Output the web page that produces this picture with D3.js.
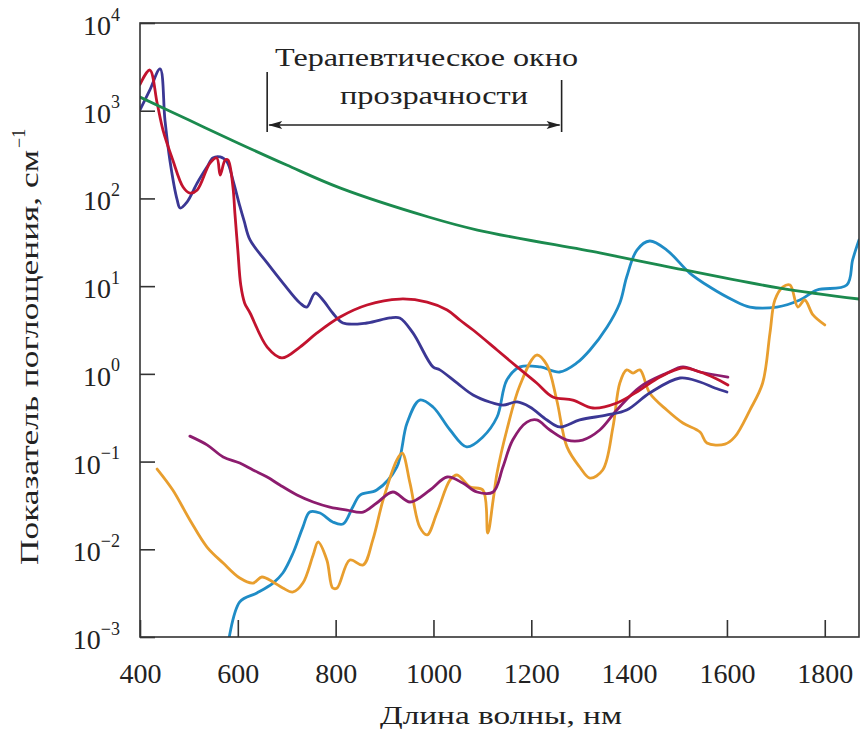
<!DOCTYPE html>
<html>
<head>
<meta charset="utf-8">
<script src="https://cdn.jsdelivr.net/npm/d3@7"></script>
<style>
  html, body { margin: 0; padding: 0; background: #fff; }
  svg { display: block; }
  text { font-family: "Liberation Serif", "Times New Roman", serif; fill: #222; }
</style>
</head>
<body>
<svg id="chart" width="862" height="735"></svg>
<script>
// Absorption spectra of tissue components (wavelength in nm, absorption in cm^-1)

const xTicks = [400, 600, 800, 1000, 1200, 1400, 1600, 1800];
const yTicks = [1e-3, 1e-2, 1e-1, 1e0, 1e1, 1e2, 1e3, 1e4];
const yTickExponents = ["\u22123", "\u22122", "\u22121", "0", "1", "2", "3", "4"];

// Therapeutic transparency window bounds, nm
const windowNm = [660, 1262];

// Melanin
const melaninNm  = [400, 500, 600, 700, 810, 990, 1090, 1340, 1463, 1708, 1870];
const melaninVal = [1430, 783, 429, 240, 131, 61.4, 43.6, 23.9, 17.4, 9.5, 7.13];

// Oxyhemoglobin
const oxyHbNm  = [400, 420, 435, 447, 467, 488, 502, 517, 543, 557, 564, 574, 580, 590, 594, 600, 606, 614, 625, 660, 690, 727, 762, 809, 864, 931, 987, 1028, 1054, 1081, 1130, 1171, 1211, 1244, 1285, 1326, 1375, 1422, 1463, 1510, 1545, 1575, 1602];
const oxyHbVal = [2000, 2910, 1225, 602, 274, 135, 115, 125, 253, 289, 185, 274, 274, 135, 68, 25.8, 10.3, 6.4, 4.94, 2.02, 1.52, 2.02, 2.93, 4.45, 6.10, 7.13, 6.59, 5.35, 4.11, 3.16, 1.87, 1.20, 0.787, 0.545, 0.503, 0.408, 0.466, 0.655, 0.920, 1.17, 1.05, 0.897, 0.747];

// Deoxyhemoglobin
const deoxyHbNm  = [400, 420, 441, 451, 461, 476, 482, 496, 517, 537, 549, 564, 578, 590, 604, 613, 625, 660, 692, 727, 741, 758, 774, 794, 815, 864, 911, 931, 958, 999, 1013, 1048, 1081, 1115, 1142, 1171, 1197, 1232, 1258, 1299, 1355, 1395, 1442, 1504, 1545, 1575, 1600];
const deoxyHbVal = [1020, 1720, 2990, 783, 274, 96, 77.8, 91, 150, 228, 289, 297, 260, 162, 82, 55, 33.6, 18.4, 10.9, 6.43, 5.78, 8.35, 6.95, 4.94, 3.80, 3.80, 4.34, 4.34, 2.93, 1.20, 1.11, 0.787, 0.574, 0.478, 0.441, 0.478, 0.419, 0.298, 0.248, 0.298, 0.340, 0.387, 0.605, 0.897, 0.807, 0.690, 0.621];

// Water
const waterNm  = [578, 604, 639, 672, 692, 713, 733, 747, 768, 794, 815, 835, 850, 884, 925, 946, 972, 999, 1034, 1068, 1101, 1130, 1150, 1177, 1218, 1258, 1293, 1320, 1355, 1381, 1395, 1416, 1442, 1477, 1524, 1565, 1612, 1647, 1702, 1749, 1784, 1845, 1857, 1870];
const waterVal = [0.0007, 0.00251, 0.00317, 0.00412, 0.00536, 0.00906, 0.0179, 0.0266, 0.0259, 0.0205, 0.0194, 0.0303, 0.0415, 0.0474, 0.0867, 0.275, 0.503, 0.419, 0.229, 0.147, 0.191, 0.322, 0.851, 1.20, 1.20, 1.05, 1.33, 1.87, 3.42, 6.43, 12.7, 25.8, 32.7, 25.8, 14.1, 9.77, 6.95, 5.78, 5.78, 6.95, 9.04, 10.3, 19.9, 33.6];

// Lipids
const lipidNm  = [435, 467, 502, 537, 570, 604, 631, 649, 672, 692, 713, 733, 754, 764, 782, 794, 803, 829, 856, 876, 897, 925, 936, 952, 972, 987, 1007, 1034, 1048, 1075, 1101, 1111, 1122, 1130, 1150, 1177, 1211, 1232, 1252, 1273, 1299, 1320, 1346, 1367, 1381, 1395, 1408, 1422, 1442, 1477, 1510, 1545, 1559, 1596, 1616, 1647, 1673, 1688, 1698, 1714, 1729, 1745, 1759, 1776, 1800];
const lipidVal = [0.0822, 0.0474, 0.0216, 0.0106, 0.00697, 0.00470, 0.00412, 0.00483, 0.00424, 0.00362, 0.00326, 0.00412, 0.00861, 0.0121, 0.00755, 0.00362, 0.00362, 0.00755, 0.00662, 0.0128, 0.0365, 0.104, 0.125, 0.0569, 0.0179, 0.0146, 0.0259, 0.0617, 0.0703, 0.0513, 0.0474, 0.0153, 0.0365, 0.0740, 0.229, 0.747, 1.64, 1.26, 0.503, 0.147, 0.0867, 0.0649, 0.0802, 0.248, 0.787, 1.11, 1.02, 1.11, 0.605, 0.387, 0.275, 0.217, 0.163, 0.158, 0.191, 0.387, 0.787, 2.93, 6.95, 9.77, 10.3, 5.78, 6.95, 4.69, 3.61];

// Collagen
const collagenNm  = [502, 537, 570, 604, 631, 660, 686, 721, 754, 788, 823, 856, 884, 917, 952, 993, 1028, 1060, 1089, 1122, 1142, 1162, 1191, 1211, 1238, 1273, 1305, 1340, 1375, 1422, 1477, 1510, 1545, 1602];
const collagenVal = [0.195, 0.155, 0.113, 0.0962, 0.0802, 0.0667, 0.0540, 0.0416, 0.0346, 0.0303, 0.0280, 0.0266, 0.0337, 0.0450, 0.0346, 0.0474, 0.0667, 0.0569, 0.0450, 0.0450, 0.0867, 0.176, 0.282, 0.298, 0.229, 0.176, 0.176, 0.229, 0.387, 0.708, 1.02, 1.20, 1.05, 0.920];

const series = [
  { nm: waterNm,    val: waterVal,    color: "#1f8cc6" },
  { nm: lipidNm,    val: lipidVal,    color: "#e89e2e" },
  { nm: collagenNm, val: collagenVal, color: "#8c1c6e" },
  { nm: deoxyHbNm,  val: deoxyHbVal,  color: "#3b3794" },
  { nm: oxyHbNm,    val: oxyHbVal,    color: "#c2132e" },
  { nm: melaninNm,  val: melaninVal,  color: "#1b8a4e" }
];

const svg = d3.select("#chart");
const plot = { left: 140, right: 859, top: 23, bottom: 637 };

const x = d3.scaleLinear().domain([400, 1870]).range([plot.left, plot.right]);
const y = d3.scaleLog().domain([1e-3, 1e4]).range([plot.bottom, plot.top]);

svg.append("defs").append("clipPath").attr("id", "plot-clip")
  .append("rect")
  .attr("x", plot.left).attr("y", plot.top)
  .attr("width", plot.right - plot.left).attr("height", plot.bottom - plot.top);

// Curves
const line = d3.line()
  .x(d => x(d[0]))
  .y(d => y(d[1]))
  .curve(d3.curveCatmullRom.alpha(0.5));

const curves = svg.append("g").attr("clip-path", "url(#plot-clip)");
series.forEach(s => {
  const pts = s.nm.map((n, i) => [n, s.val[i]]);
  curves.append("path")
    .datum(pts)
    .attr("d", line)
    .attr("fill", "none")
    .attr("stroke", s.color)
    .attr("stroke-width", 2.8)
    .attr("stroke-linejoin", "round")
    .attr("stroke-linecap", "round");
});

// Frame
svg.append("rect")
  .attr("x", plot.left).attr("y", plot.top)
  .attr("width", plot.right - plot.left).attr("height", plot.bottom - plot.top)
  .attr("fill", "none").attr("stroke", "#333").attr("stroke-width", 1.6);

// X axis with inward ticks
const xAxis = svg.append("g")
  .attr("transform", `translate(0,${plot.bottom})`)
  .call(d3.axisBottom(x).tickValues(xTicks).tickSize(-17).tickPadding(26).tickFormat(d3.format("d")));
xAxis.select(".domain").remove();
xAxis.selectAll(".tick line").attr("stroke", "#333").attr("stroke-width", 1.6);
xAxis.selectAll(".tick text")
  .attr("font-size", 28).attr("font-family", "Liberation Serif, serif").attr("fill", "#222");

// Y axis (log) with inward ticks and power-of-ten labels
const yAxis = svg.append("g")
  .attr("transform", `translate(${plot.left},0)`)
  .call(d3.axisLeft(y).tickValues(yTicks).tickSize(-15).tickPadding(20).tickFormat(""));
yAxis.select(".domain").remove();
yAxis.selectAll(".tick line").attr("stroke", "#333").attr("stroke-width", 1.6);
yAxis.selectAll(".tick text").each(function(d) {
  const t = d3.select(this)
    .attr("font-size", 28).attr("font-family", "Liberation Serif, serif")
    .attr("fill", "#222").attr("dy", "0.41em").text(null);
  t.append("tspan").text("10");
  t.append("tspan").attr("font-size", 18).attr("dy", "-0.8em").text(yTickExponents[yTicks.indexOf(d)]);
});

// Axis titles
svg.append("text")
  .attr("x", 380).attr("y", 724)
  .attr("font-size", 26)
  .attr("textLength", 242).attr("lengthAdjust", "spacingAndGlyphs")
  .text("Длина волны, нм");

const yTitle = svg.append("text")
  .attr("transform", "translate(38,565) rotate(-90)")
  .attr("font-size", 26);
yTitle.append("tspan")
  .attr("textLength", 415).attr("lengthAdjust", "spacingAndGlyphs")
  .text("Показатель поглощения, см");
yTitle.append("tspan").attr("font-size", 18).attr("dy", "-0.75em").attr("dx", 2).text("\u22121");

// Therapeutic window annotation
const ann = svg.append("g");
const wx0 = x(windowNm[0]), wx1 = x(windowNm[1]);
const arrowY = 125;
ann.append("text").attr("x", 275).attr("y", 66).attr("font-size", 26)
  .attr("textLength", 303).attr("lengthAdjust", "spacingAndGlyphs")
  .text("Терапевтическое окно");
ann.append("text").attr("x", 340).attr("y", 104).attr("font-size", 26)
  .attr("textLength", 188).attr("lengthAdjust", "spacingAndGlyphs")
  .text("прозрачности");
ann.append("line").attr("x1", wx0).attr("x2", wx0).attr("y1", 72).attr("y2", 132)
  .attr("stroke", "#222").attr("stroke-width", 1.6);
ann.append("line").attr("x1", wx1).attr("x2", wx1).attr("y1", 80).attr("y2", 132)
  .attr("stroke", "#222").attr("stroke-width", 1.6);
ann.append("line").attr("x1", wx0 + 2).attr("x2", wx1 - 2).attr("y1", arrowY).attr("y2", arrowY)
  .attr("stroke", "#222").attr("stroke-width", 1.6);
ann.append("path")
  .attr("d", `M${wx0 + 1},${arrowY} l14,-4 l-3,4 l3,4 z`)
  .attr("fill", "#222");
ann.append("path")
  .attr("d", `M${wx1 - 1},${arrowY} l-14,-4 l3,4 l-3,4 z`)
  .attr("fill", "#222");
</script>
</body>
</html>
